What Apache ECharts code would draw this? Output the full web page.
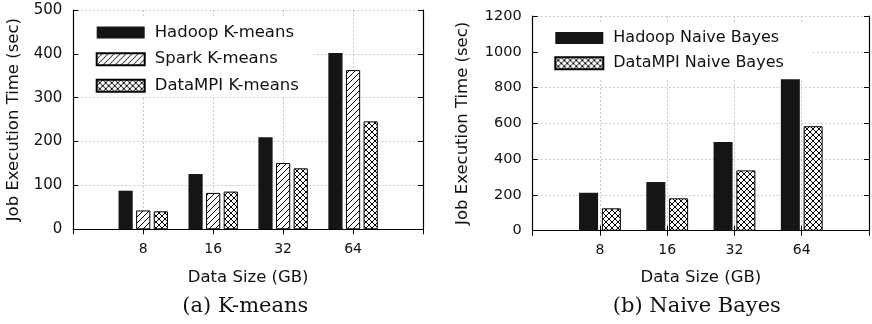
<!DOCTYPE html>
<html><head><meta charset="utf-8">
<script src="https://cdn.jsdelivr.net/npm/echarts@6/dist/echarts.min.js"></script>
<style>html,body{margin:0;padding:0;background:#fff}#c{width:872px;height:324px}</style>
</head><body><div id="c"></div>
<script>
// ---- data ----
const sizes = ['8', '16', '32', '64'];
const kmHadoop = [88, 126, 210, 402];
const kmSpark = [43, 83, 151, 363];
const kmDataMPI = [41, 86, 139, 246];
const nbHadoop = [212, 272, 496, 870];
const nbDataMPI = [125, 181, 337, 584];
const kmTicks = [0, 100, 200, 300, 400, 500];
const nbTicks = [0, 200, 400, 600, 800, 1000, 1200];
const kmNames = ['Hadoop K-means', 'Spark K-means', 'DataMPI K-means'];
const nbNames = ['Hadoop Naive Bayes', 'DataMPI Naive Bayes'];
const xTitle = 'Data Size (GB)';
const yTitle = 'Job Execution Time (sec)';
const captions = ['(a) K-means', '(b) Naive Bayes'];

// padded category list: an empty slot on each side of the groups
const cats = [''].concat(sizes, ['']);
const pad = v => [null].concat(v, [null]);

function hatch(cross) {
  const s = 6, c = document.createElement('canvas');
  c.width = s; c.height = s;
  const g = c.getContext('2d');
  g.fillStyle = '#fff'; g.fillRect(0, 0, s, s);
  g.strokeStyle = '#000'; g.lineWidth = 1;
  g.beginPath();
  g.moveTo(-1, s + 1); g.lineTo(s + 1, -1);
  g.moveTo(-1, 1); g.lineTo(1, -1);
  g.moveTo(s - 1, s + 1); g.lineTo(s + 1, s - 1);
  if (cross) {
    g.moveTo(-1, -1); g.lineTo(s + 1, s + 1);
    g.moveTo(s - 1, -1); g.lineTo(s + 1, 1);
    g.moveTo(-1, s - 1); g.lineTo(1, s + 1);
  }
  g.stroke();
  return c;
}
const solid = {color: '#151515', borderColor: '#151515', borderWidth: 0};
const diag = {color: {image: hatch(false), repeat: 'repeat'}, borderColor: '#000', borderWidth: 1};
const cross = {color: {image: hatch(true), repeat: 'repeat'}, borderColor: '#000', borderWidth: 1};

const FONT = 'DejaVu Sans';
const black = '#111';
const frame = {show: true, lineStyle: {color: '#000', width: 1.2}};
const tickIn = {show: true, inside: true, length: 5, interval: 0, lineStyle: {color: '#000', width: 1}};
const grid = {show: true, lineStyle: {color: '#cacaca', type: [2, 2], width: 1}};

function xAxes(gi, gap) {
  return [
    {type: 'category', gridIndex: gi, data: cats, boundaryGap: false, position: 'bottom',
     axisLine: frame, axisTick: tickIn,
     axisLabel: {interval: 0, margin: 13, fontSize: 14, color: black, fontFamily: FONT},
     splitLine: Object.assign({interval: 0}, grid),
     name: xTitle, nameLocation: 'middle', nameGap: gap,
     nameTextStyle: {fontSize: 16.5, color: black, fontFamily: FONT}},
    {type: 'category', gridIndex: gi, data: cats, boundaryGap: false, position: 'top',
     axisLine: frame, axisTick: tickIn, axisLabel: {show: false}, splitLine: {show: false}}
  ];
}
function yAxes(gi, ticks, gap, fs) {
  const mn = ticks[0], mx = ticks[ticks.length - 1], iv = ticks[1] - ticks[0];
  return [
    {type: 'value', gridIndex: gi, min: mn, max: mx, interval: iv, position: 'left',
     axisLine: frame, axisTick: tickIn,
     axisLabel: {margin: 11, fontSize: fs, color: black, fontFamily: FONT, formatter: v => String(v)},
     splitLine: grid,
     name: yTitle, nameLocation: 'middle', nameGap: gap,
     nameTextStyle: {fontSize: 16.5, color: black, fontFamily: FONT}},
    {type: 'value', gridIndex: gi, min: mn, max: mx, interval: iv, position: 'right',
     axisLine: frame, axisTick: tickIn, axisLabel: {show: false}, splitLine: {show: false}}
  ];
}
function bar(name, vals, style, xi, yi, w, gapPct) {
  return {type: 'bar', name: name, data: pad(vals), xAxisIndex: xi, yAxisIndex: yi,
          barWidth: w, barGap: gapPct, itemStyle: style, silent: true};
}

const chart = echarts.init(document.getElementById('c'), null, {renderer: 'canvas'});
chart.setOption({
  animation: false,
  backgroundColor: '#fff',
  grid: [
    {left: 73.3, top: 10, width: 349.7, height: 219.3},
    {left: 532.7, top: 16, width: 341.8, height: 214.7}
  ],
  xAxis: xAxes(0, 40).concat(xAxes(1, 39)),
  yAxis: yAxes(0, kmTicks, 51, 15).concat(yAxes(1, nbTicks, 61, 14.5)),
  legend: [
    {data: kmNames, orient: 'vertical', left: 79, top: 16, padding: [8, 15, 3, 16.7],
     backgroundColor: '#fff', itemWidth: 48, itemHeight: 12, itemGap: 9.65, icon: 'rect',
     selectedMode: false,
     textStyle: {fontSize: 16.5, lineHeight: 12, color: black, fontFamily: FONT, padding: [0, 0, 0, 5]}},
    {data: nbNames, orient: 'vertical', left: 538.5, top: 22, padding: [8, 28, 8, 15.8],
     backgroundColor: '#fff', itemWidth: 48, itemHeight: 12, itemGap: 9.3, icon: 'rect',
     selectedMode: false,
     textStyle: {fontSize: 16, lineHeight: 12, color: black, fontFamily: FONT, padding: [0, 0, 0, 5]}}
  ],
  series: [
    bar(kmNames[0], kmHadoop, solid, 0, 0, 14.2, '24%'),
    bar(kmNames[1], kmSpark, diag, 0, 0, 14.2, '24%'),
    bar(kmNames[2], kmDataMPI, cross, 0, 0, 14.2, '24%'),
    bar(nbNames[0], nbHadoop, solid, 2, 2, 19, '20%'),
    bar(nbNames[1], nbDataMPI, cross, 2, 2, 19, '20%')
  ],
  graphic: [
    {type: 'text', style: {text: captions[0], x: 245.3, y: 307, font: '21px "DejaVu Serif"',
      fill: black, align: 'center', verticalAlign: 'middle'}},
    {type: 'text', style: {text: captions[1], x: 696.8, y: 307, font: '21px "DejaVu Serif"',
      fill: black, align: 'center', verticalAlign: 'middle'}}
  ]
});
</script></body></html>
